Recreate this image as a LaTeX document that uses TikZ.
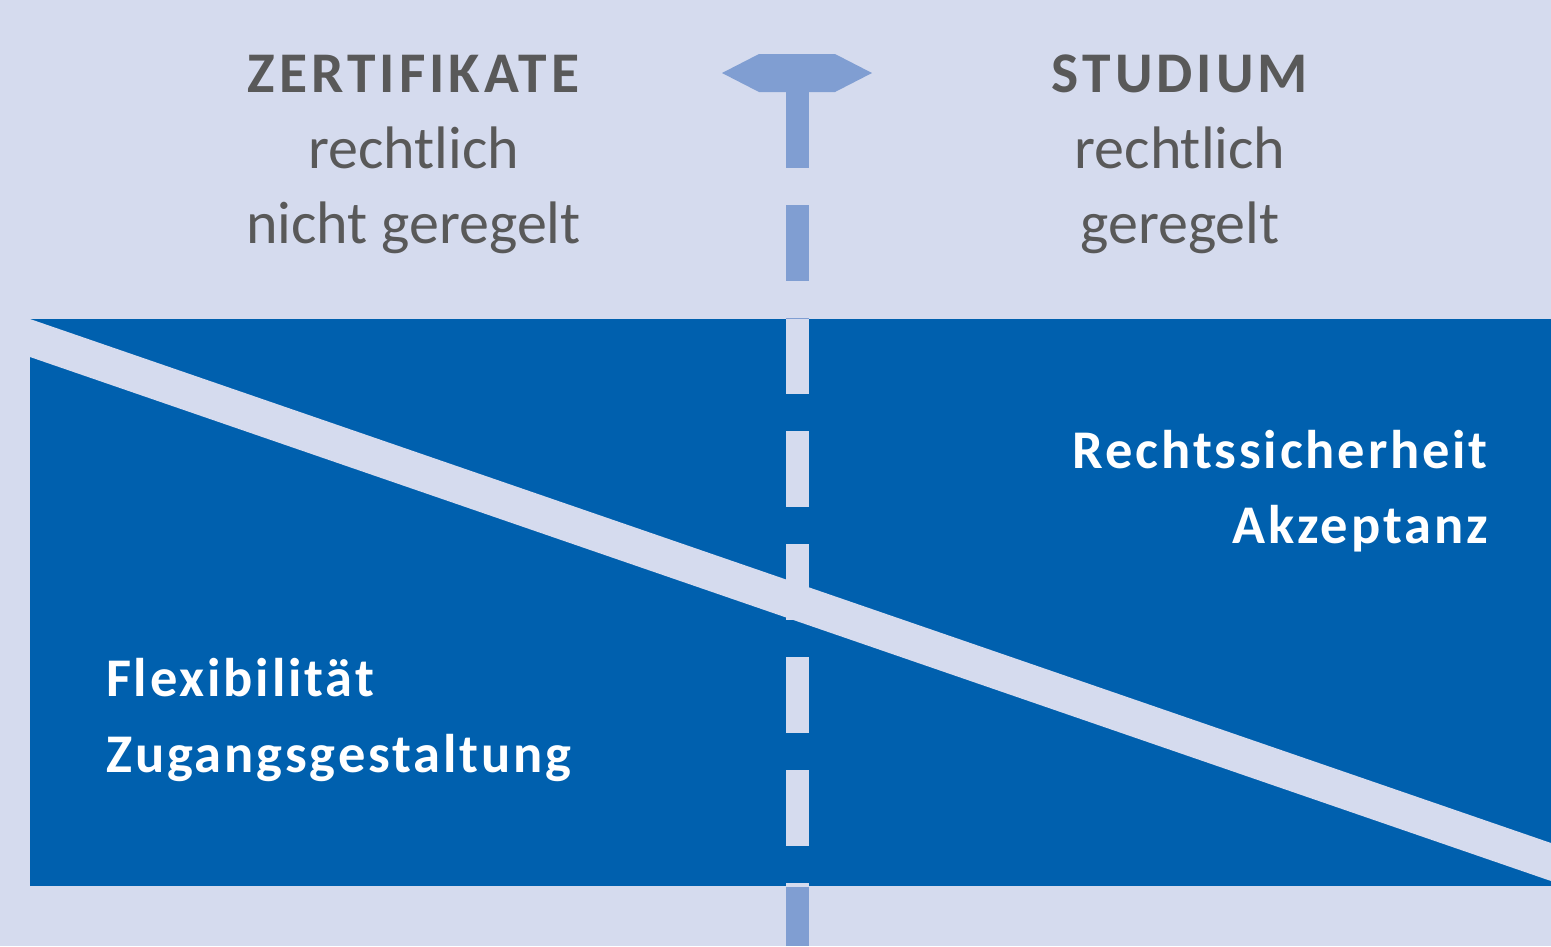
\documentclass[tikz,border=0pt]{standalone}
\usepackage{fontspec}
\setmainfont{Carlito}
\newfontfamily\titlefont[LetterSpace=7]{Carlito}
\newfontfamily\keyfont[LetterSpace=5.2]{Carlito}
\usepackage{tikz}

\definecolor{bgcol}{HTML}{D5DBEE}
\definecolor{bluecol}{HTML}{0060AE}
\definecolor{dashcol}{HTML}{809ED2}
\definecolor{textgray}{HTML}{595959}

\tikzset{
  headline/.style={anchor=base, text=textgray, font=\titlefont\bfseries\fontsize{57.5}{70}\selectfont, inner sep=0pt},
  subline/.style={anchor=base, text=textgray, font=\fontsize{60}{75}\selectfont, inner sep=0pt},
  keyword/.style={text=white, font=\keyfont\bfseries\fontsize{54.5}{70}\selectfont, inner sep=0pt},
  border/.style={line width=23pt, dash pattern=on 76pt off 37pt}
}

\begin{document}
\begin{tikzpicture}[x=1pt,y=-1pt]
  \fill[bgcol] (0,0) rectangle (1551,946);
  \useasboundingbox (0,0) rectangle (1551,946);

  % blue field with the light diagonal
  \fill[bluecol] (30,319) rectangle (1551,886);
  \fill[bgcol] (30,319) -- (1551,843) -- (1551,881) -- (30,357) -- cycle;

  % dashed border line, light inside the blue field
  \draw[border, dashcol] (797.5,92) -- (797.5,946);
  \begin{scope}
    \clip (30,319) rectangle (1551,886);
    \draw[border, bgcol] (797.5,92) -- (797.5,946);
  \end{scope}
  \fill[dashcol] (722,73) -- (759,54) -- (835,54) -- (872,73) --
    (835,92) -- (759,92) -- cycle;

  \node[headline] (zert) at (413.5,92) {ZERTIFIKATE};
  \node[subline] (zertA) at (413.5,168) {rechtlich};
  \node[subline] (zertB) at (413.5,243) {nicht geregelt};

  \node[headline] (stud) at (1180,92) {STUDIUM};
  \node[subline] (studA) at (1180,168) {rechtlich};
  \node[subline] (studB) at (1180,243) {geregelt};

  \node[keyword, anchor=base east] (sicher) at (1488,468) {Rechtssicherheit};
  \node[keyword, anchor=base east] (akzept) at (1488,543) {Akzeptanz};

  \node[keyword, anchor=base west] (flex) at (106,696) {Flexibilität};
  \node[keyword, anchor=base west] (zugang) at (106,772) {Zugangsgestaltung};
\end{tikzpicture}
\end{document}
